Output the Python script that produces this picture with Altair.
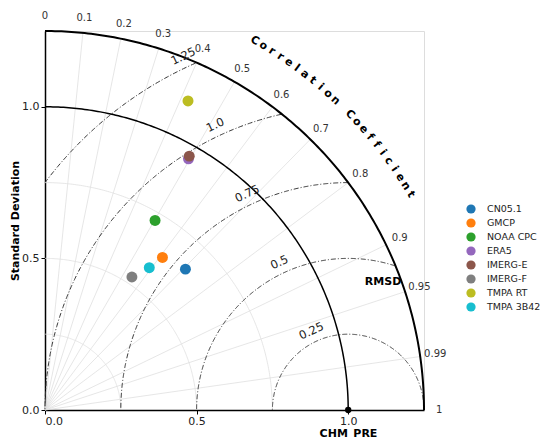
import numpy as np
import pandas as pd
import altair as alt

# ---------------- data ----------------
categories = ["CN05.1", "GMCP", "NOAA CPC", "ERA5", "IMERG-E", "IMERG-F", "TMPA RT", "TMPA 3B42"]
std_dev = [0.656, 0.635, 0.723, 0.954, 0.963, 0.524, 1.123, 0.582]
correlation = [0.706, 0.610, 0.502, 0.496, 0.494, 0.547, 0.420, 0.591]
colors = ["#1f77b4", "#ff7f0e", "#2ca02c", "#9467bd", "#8c564b", "#7f7f7f", "#bcbd22", "#17becf"]

ref_name = "CHM_PRE"
ref_std = 1.0
max_std = 1.25

corr_ticks = [0, 0.1, 0.2, 0.3, 0.4, 0.5, 0.6, 0.7, 0.8, 0.9, 0.95, 0.99, 1]
corr_tick_labels = ["0", "0.1", "0.2", "0.3", "0.4", "0.5", "0.6", "0.7", "0.8", "0.9", "0.95", "0.99", "1"]
corr_grid = [0.1, 0.2, 0.3, 0.4, 0.5, 0.6, 0.7, 0.8, 0.9, 0.95, 0.99]
std_grid = [0.25, 0.5, 0.75]
std_main = [1.0, 1.25]
rmsd_levels = [0.25, 0.5, 0.75, 1.0, 1.25]
rmsd_labels = ["0.25", "0.5", "0.75", "1.0", "1.25"]
axis_ticks = [0.0, 0.5, 1.0]
corr_title = "Correlation Coefficient"

# ---------------- derived tables ----------------
pts = pd.DataFrame({
    "name": categories,
    "x": [s * c for s, c in zip(std_dev, correlation)],
    "y": [s * np.sqrt(1 - c * c) for s, c in zip(std_dev, correlation)],
})
ref_df = pd.DataFrame({"x": [ref_std], "y": [0.0]})

radial = pd.DataFrame({
    "x": [0.0] * len(corr_grid), "y": [0.0] * len(corr_grid),
    "x2": [max_std * c for c in corr_grid],
    "y2": [max_std * np.sqrt(1 - c * c) for c in corr_grid],
})

def std_arcs(radii):
    rows = []
    for r in radii:
        for i, t in enumerate(np.linspace(0, np.pi / 2, 181)):
            rows.append({"r": r, "o": i, "x": r * np.cos(t), "y": r * np.sin(t)})
    return pd.DataFrame(rows)

grid_arcs = std_arcs(std_grid)
main_arcs_in = std_arcs([std_main[0]])
main_arcs_out = std_arcs([std_main[1]])

rows = []
for R in rmsd_levels:
    k = 0
    for t in np.linspace(0, np.pi, 721):
        x = ref_std + R * np.cos(t)
        y = R * np.sin(t)
        if x >= -1e-9 and x * x + y * y <= max_std ** 2 + 1e-9:
            rows.append({"R": R, "o": k, "x": x, "y": y})
            k += 1
rmsd_arcs = pd.DataFrame(rows)

lab_ang = np.deg2rad(115)
rmsd_lab = pd.DataFrame({
    "label": rmsd_labels,
    "x": [ref_std + (R + 0.035) * np.cos(lab_ang) for R in rmsd_levels],
    "y": [(R + 0.035) * np.sin(lab_ang) for R in rmsd_levels],
    "angle": [335] * len(rmsd_levels),
})

corr_lab = pd.DataFrame({
    "label": corr_tick_labels,
    "x": [1.30 * c for c in corr_ticks],
    "y": [1.30 * np.sqrt(max(0.0, 1 - c * c)) for c in corr_ticks],
})

chars = list(corr_title)
a0, a1 = 60.4, 30.5
angs = np.linspace(a0, a1, len(chars))
title_df = pd.DataFrame({
    "ch": chars,
    "x": [1.40 * np.cos(np.deg2rad(a)) for a in angs],
    "y": [1.40 * np.sin(np.deg2rad(a)) for a in angs],
    "angle": [(90 - a) % 360 for a in angs],
})

rmsd_word = pd.DataFrame({"label": ["RMSD"], "x": [1.115], "y": [0.422]})

# ---------------- encodings ----------------
xs = alt.Scale(domain=[0, max_std], nice=False, zero=False)
ys = alt.Scale(domain=[0, max_std], nice=False, zero=False)
X = alt.X("x:Q", scale=xs, axis=alt.Axis(values=axis_ticks, format=".1f", title=ref_name,
                                          grid=False, domainColor="black", domainWidth=1.5,
                                          tickColor="black", tickSize=4, labelPadding=1,
                                          labelFontSize=11, labelColor="#222",
                                          titleFontSize=11, titleFontWeight="bold",
                                          titleX=303, titleY=26, titleAlign="center",
                                          titleBaseline="alphabetic"))
Y = alt.Y("y:Q", scale=ys, axis=alt.Axis(values=axis_ticks, format=".1f", title="Standard Deviation",
                                          grid=False, domainColor="black", domainWidth=1.5,
                                          tickColor="black", tickSize=4, labelPadding=2,
                                          labelFontSize=11, labelColor="#222",
                                          titleFontSize=11, titleFontWeight="bold",
                                          titleX=-30, titleY=189.5, titleAngle=270,
                                          titleAlign="center", titleBaseline="middle"))

radial_l = alt.Chart(radial).mark_rule(color="#e0e0e0", strokeWidth=0.8).encode(
    x=X, y=Y, x2="x2:Q", y2="y2:Q")
grid_l = alt.Chart(grid_arcs).mark_line(color="#e0e0e0", strokeWidth=0.8).encode(
    x=X, y=Y, detail="r:N", order="o:Q")
rmsd_l = alt.Chart(rmsd_arcs).mark_line(color="#333333", strokeWidth=1, strokeDash=[5, 2, 1, 2]).encode(
    x=X, y=Y, detail="R:N", order="o:Q")
main_in_l = alt.Chart(main_arcs_in).mark_line(color="black", strokeWidth=1.5).encode(
    x=X, y=Y, order="o:Q")
main_out_l = alt.Chart(main_arcs_out).mark_line(color="black", strokeWidth=2).encode(
    x=X, y=Y, order="o:Q")
rmsd_txt = alt.Chart(rmsd_lab).mark_text(fontSize=11.5, color="#222", baseline="middle", align="center").encode(
    x=X, y=Y, text="label:N", angle=alt.Angle("angle:Q", scale=None))
corr_txt = alt.Chart(corr_lab).mark_text(fontSize=10, color="#333", baseline="middle", align="center").encode(
    x=X, y=Y, text="label:N")
title_txt = alt.Chart(title_df).mark_text(fontSize=11, fontWeight="bold", color="black",
                                          baseline="middle", align="center").encode(
    x=X, y=Y, text="ch:N", angle=alt.Angle("angle:Q", scale=None))
rmsd_word_l = alt.Chart(rmsd_word).mark_text(fontSize=11, fontWeight="bold", color="black").encode(
    x=X, y=Y, text="label:N")
ref_l = alt.Chart(ref_df).mark_point(filled=True, color="black", size=40, opacity=1).encode(x=X, y=Y)
pts_l = alt.Chart(pts).mark_point(filled=True, size=120, opacity=1).encode(
    x=X, y=Y,
    color=alt.Color("name:N", scale=alt.Scale(domain=categories, range=colors),
                    legend=alt.Legend(title=None, orient="none", legendX=421, legendY=173,
                                      symbolType="circle", symbolSize=85, symbolStrokeWidth=0,
                                      labelFontSize=9.5, labelColor="#222", labelOffset=11,
                                      rowPadding=4, padding=0, symbolOpacity=1)),
    order=alt.Order("order_idx:Q"),
).transform_calculate(order_idx="indexof(" + str(categories).replace("'", '"') + ", datum.name)")

chart = alt.layer(radial_l, grid_l, rmsd_l, main_in_l, main_out_l, rmsd_txt, corr_txt,
                  title_txt, rmsd_word_l, pts_l, ref_l).properties(
    width=379, height=379,
    autosize=alt.AutoSizeParams(type="none"),
    padding={"left": 37, "top": 23, "right": 118, "bottom": 29},
).configure_view(stroke=None).configure(font="DejaVu Sans")

chart.save("out.html", embed_options={"renderer": "svg", "actions": False})
